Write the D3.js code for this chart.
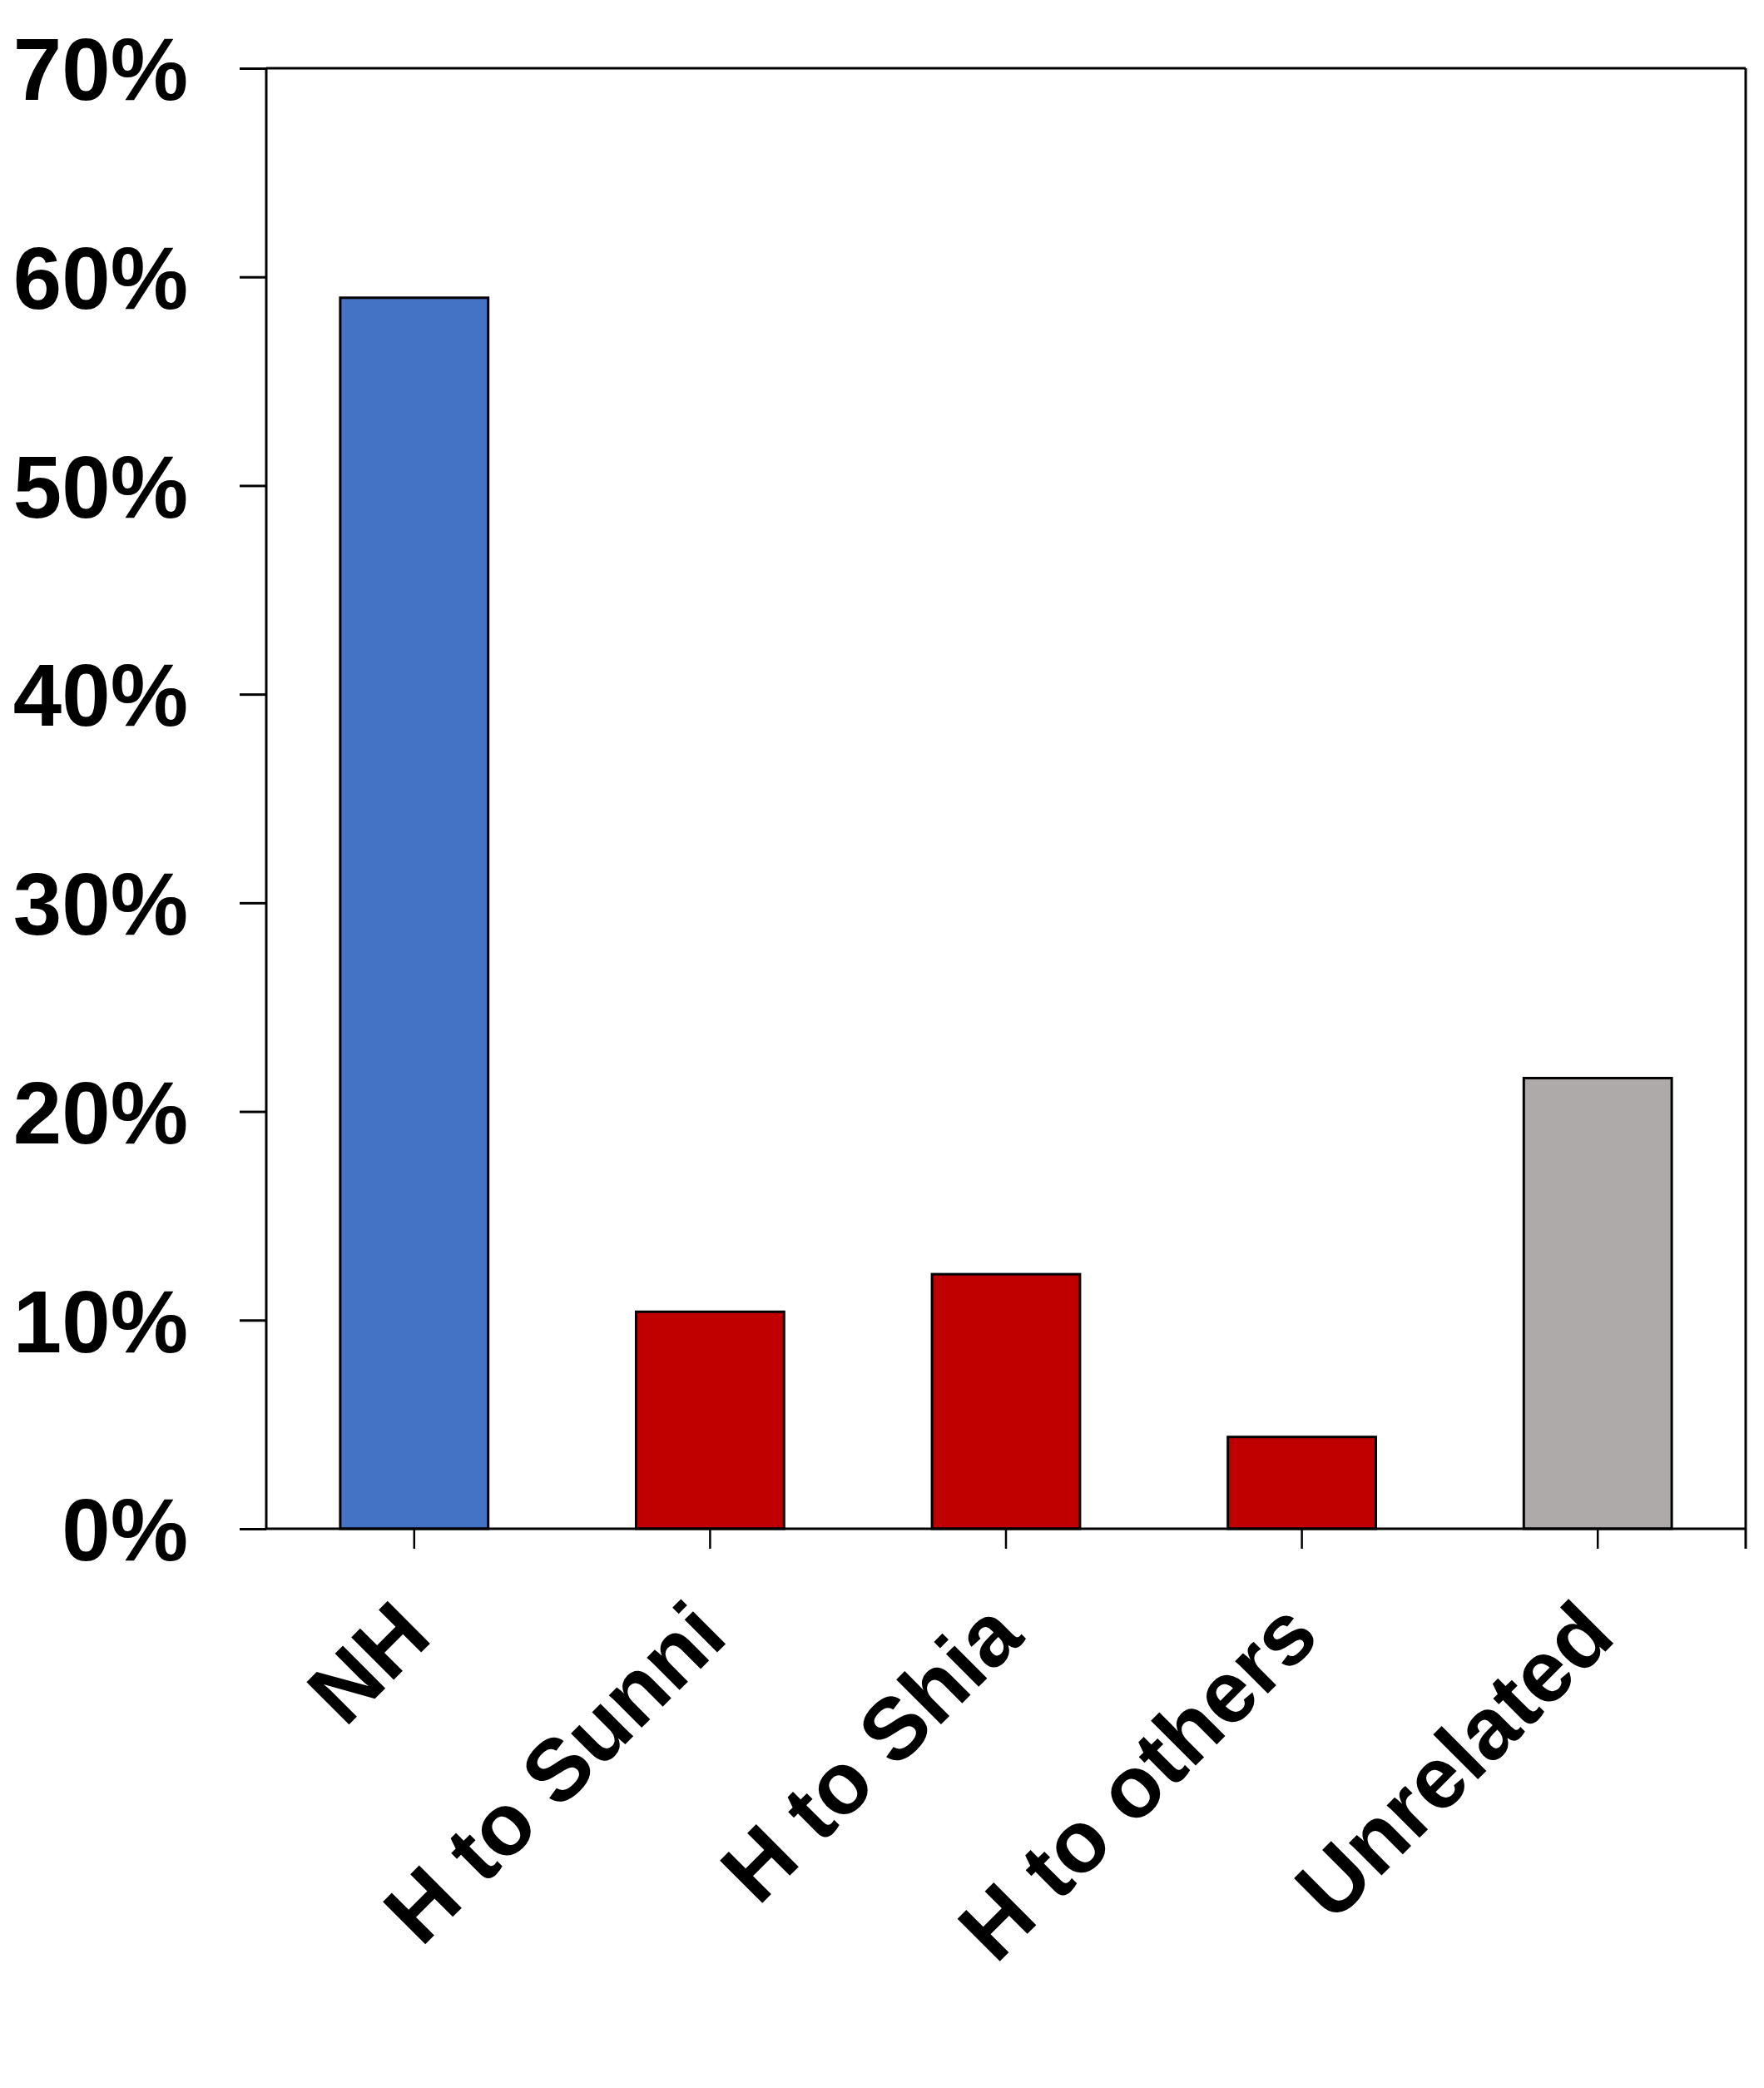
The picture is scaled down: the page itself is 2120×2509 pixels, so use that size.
<!DOCTYPE html>
<html>
<head>
<meta charset="utf-8">
<script src="https://cdn.jsdelivr.net/npm/d3@7"></script>
<style>
  html, body { margin: 0; padding: 0; background: #fff; }
  svg { display: block; }
  text { font-family: "Liberation Sans", Arial, sans-serif; font-weight: bold; fill: #000; }
</style>
</head>
<body>
<svg id="chart" width="2120" height="2509"></svg>
<script>
const categories = ["NH", "H to Sunni", "H to Shia", "H to others", "Unrelated"];
const values = [59.0, 10.4, 12.2, 4.4, 21.6];
const barColors = ["#4472C4", "#C00000", "#C00000", "#C00000", "#AEAAAA"];
const yTicks = [0, 10, 20, 30, 40, 50, 60, 70];

(function () {
const svg = d3.select("#chart");
const pLeft = 320, pRight = 2098, pTop = 82, pBottom = 1837;

const x = d3.scaleBand().domain(categories).range([pLeft, pRight]).paddingInner(0.5).paddingOuter(0.25);
const y = d3.scaleLinear().domain([0, 70]).range([pBottom, pTop]);

// bars
svg.append("g").selectAll("rect")
  .data(categories)
  .join("rect")
  .attr("x", d => x(d))
  .attr("y", (d, i) => y(values[i]))
  .attr("width", x.bandwidth())
  .attr("height", (d, i) => y(0) - y(values[i]))
  .attr("fill", (d, i) => barColors[i])
  .attr("stroke", "#000")
  .attr("stroke-width", 3);

// y axis
const yAxis = svg.append("g")
  .attr("transform", `translate(${pLeft},0)`)
  .call(d3.axisLeft(y).tickValues(yTicks).tickSize(32).tickPadding(62).tickFormat(d => d + "%"));
yAxis.select(".domain").remove();
yAxis.selectAll(".tick line").attr("stroke", "#000").attr("stroke-width", 3);
yAxis.selectAll(".tick text").attr("font-size", 105).attr("dy", "0.36em").attr("fill", "#000")
  .attr("font-family", "'Liberation Sans', Arial, sans-serif").attr("font-weight", "bold");

// x axis ticks
const xAxis = svg.append("g")
  .attr("transform", `translate(0,${pBottom})`)
  .call(d3.axisBottom(x).tickSize(24).tickFormat(""));
xAxis.select(".domain").remove();
xAxis.selectAll(".tick line").attr("stroke", "#000").attr("stroke-width", 2.5);

// frame lines
const frame = svg.append("g").attr("stroke", "#000").attr("stroke-width", 3).attr("fill", "none");
frame.append("line").attr("x1", pLeft).attr("x2", pLeft).attr("y1", pTop).attr("y2", pBottom);
frame.append("line").attr("x1", pLeft).attr("x2", pRight).attr("y1", pTop).attr("y2", pTop);
frame.append("line").attr("x1", pRight).attr("x2", pRight).attr("y1", pTop).attr("y2", pBottom + 24);
frame.append("line").attr("x1", pLeft).attr("x2", pRight).attr("y1", pBottom).attr("y2", pBottom);

// x labels
svg.append("g").selectAll("text")
  .data(categories)
  .join("text")
  .attr("transform", d => `translate(${x(d) + x.bandwidth() / 2 + 24},${pBottom + 133}) rotate(-45)`)
  .attr("text-anchor", "end")
  .attr("font-size", 105)
  .text(d => d);
})();
</script>
</body>
</html>
